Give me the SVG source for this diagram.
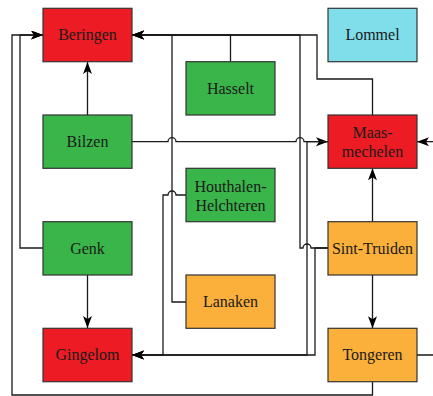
<svg xmlns="http://www.w3.org/2000/svg" width="433" height="396" viewBox="0 0 433 396">
  <style>
    .node rect { stroke: #333; stroke-width: 1.2; }
    .node text { font-family: "Liberation Serif", "Times New Roman", serif; font-size: 16px; fill: #1a1a1a; text-anchor: middle; }
    .red rect { fill: #ED1C24; }
    .green rect { fill: #39B54A; }
    .orange rect { fill: #FBB03B; }
    .cyan rect { fill: #80DEEA; }
    .edge { fill: none; stroke: #1a1a1a; stroke-width: 1.3; }
  </style>
  <defs>
    <marker id="arrow" markerUnits="userSpaceOnUse" markerWidth="13" markerHeight="10" refX="12" refY="4.5" orient="auto">
      <path d="M0,0 L12,4.5 L0,9 L3,4.5 z" fill="#000"/>
    </marker>
  </defs>

  <rect width="433" height="396" fill="#fff"/>

  <!-- connectors -->
  <g id="connectors">
    <path class="edge" d="M87.5,115 V62" marker-end="url(#arrow)"/>
    <path class="edge" d="M87.5,275 V328" marker-end="url(#arrow)"/>
    <path class="edge" d="M372.5,222 V168.3" marker-end="url(#arrow)"/>
    <path class="edge" d="M372.5,275 V328.3" marker-end="url(#arrow)"/>
    <path class="edge" d="M132,141.7 H168 a4,4 0 0 1 8,0 H296 a4,4 0 0 1 8,0 H328" marker-end="url(#arrow)"/>
    <path class="edge" d="M417,355 H440 V141.7 H417" marker-end="url(#arrow)"/>
    <path class="edge" d="M372.5,381.7 V395 H12 V35 H43" marker-end="url(#arrow)"/>
    <path class="edge" d="M43,248 H20 V35 H43" marker-end="url(#arrow)"/>
    <path class="edge" d="M372.5,115 V79 H317 V35 H132" marker-end="url(#arrow)"/>
    <path class="edge" d="M230.5,62 V35 H132" marker-end="url(#arrow)"/>
    <path class="edge" d="M186,302 H172 V35 H132" marker-end="url(#arrow)"/>
    <path class="edge" d="M328,248 H311 a4,4 0 0 0 -8,0 H300 V35 H132" marker-end="url(#arrow)"/>
    <path class="edge" d="M186,195 H176 a4,4 0 0 0 -8,0 H163 V355 H132" marker-end="url(#arrow)"/>
    <path class="edge" d="M328,141.7 H307 V355 H132" marker-end="url(#arrow)"/>
    <path class="edge" d="M328,248 H315 V355 H132" marker-end="url(#arrow)"/>
  </g>

  <!-- nodes -->
  <g id="beringen" class="node red">
    <rect x="43" y="8.3" width="89" height="53.4"/>
    <text x="87.5" y="40">Beringen</text>
  </g>
  <g id="lommel" class="node cyan">
    <rect x="328" y="8.3" width="89" height="53.4"/>
    <text x="372.5" y="40">Lommel</text>
  </g>
  <g id="hasselt" class="node green">
    <rect x="186" y="61.7" width="89" height="53.3"/>
    <text x="230.5" y="93.5">Hasselt</text>
  </g>
  <g id="bilzen" class="node green">
    <rect x="43" y="115" width="89" height="53.3"/>
    <text x="87.5" y="146.7">Bilzen</text>
  </g>
  <g id="maasmechelen" class="node red">
    <rect x="328" y="115" width="89" height="53.3"/>
    <text x="372.5" y="138">Maas-</text>
    <text x="372.5" y="157">mechelen</text>
  </g>
  <g id="houthalen-helchteren" class="node green">
    <rect x="186" y="168.3" width="89" height="53.4"/>
    <text x="230.5" y="192">Houthalen-</text>
    <text x="230.5" y="211">Helchteren</text>
  </g>
  <g id="genk" class="node green">
    <rect x="43" y="221.7" width="89" height="53.3"/>
    <text x="87.5" y="253.5">Genk</text>
  </g>
  <g id="sint-truiden" class="node orange">
    <rect x="328" y="221.7" width="89" height="53.3"/>
    <text x="372.5" y="253.5">Sint-Truiden</text>
  </g>
  <g id="lanaken" class="node orange">
    <rect x="186" y="275" width="89" height="53.3"/>
    <text x="230.5" y="307">Lanaken</text>
  </g>
  <g id="gingelom" class="node red">
    <rect x="43" y="328.3" width="89" height="53.4"/>
    <text x="87.5" y="360">Gingelom</text>
  </g>
  <g id="tongeren" class="node orange">
    <rect x="328" y="328.3" width="89" height="53.4"/>
    <text x="372.5" y="360">Tongeren</text>
  </g>
</svg>
